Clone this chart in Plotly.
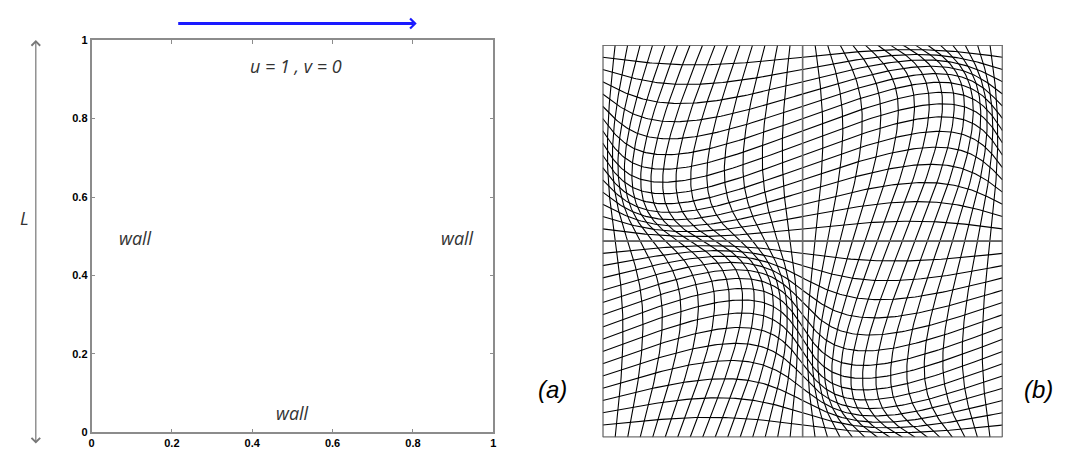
import numpy as np
import plotly.graph_objects as go

W, H = 1091, 454

# ---- panel (a) data ----
tick_vals = [0, 0.2, 0.4, 0.6, 0.8, 1]
tick_text = ["0", "0.2", "0.4", "0.6", "0.8", "1"]
lid_label = "u = 1 , v = 0"
wall_labels = ["wall", "wall", "wall"]
wall_x = [0.11, 0.91, 0.5]
wall_y = [0.495, 0.495, 0.05]

# ---- panel (b) data: distorted mesh parameters ----
n_cells = 32          # cells per side
amplitude = 0.1       # sinusoidal node displacement
n_samples = 160

def px_to_paper_x(px):
    return px / W

def px_to_paper_y(py):
    return (H - py) / H

fig = go.Figure()

# invisible trace to anchor panel (a) axes
fig.add_trace(go.Scatter(x=[0, 1], y=[0, 1], mode="markers",
                         marker=dict(opacity=0), hoverinfo="skip",
                         showlegend=False, xaxis="x", yaxis="y"))

# mesh lines
xi = np.linspace(0, 1, n_cells + 1)
s = np.linspace(0, 1, n_samples)
mx, my = [], []
for k in xi:
    d = amplitude * np.sin(2 * np.pi * k) * np.sin(2 * np.pi * s)
    mx += list(k + d) + [None]
    my += list(s + d) + [None]
for k in xi:
    d = amplitude * np.sin(2 * np.pi * s) * np.sin(2 * np.pi * k)
    mx += list(s + d) + [None]
    my += list(k + d) + [None]
fig.add_trace(go.Scatter(x=mx, y=my, mode="lines",
                         line=dict(color="black", width=1.1),
                         hoverinfo="skip", showlegend=False,
                         xaxis="x2", yaxis="y2"))

frame = "#8c8c8c"
tick_font = dict(family="Liberation Sans", size=11, color="black")
fig.update_layout(
    width=W, height=H,
    margin=dict(l=0, r=0, t=0, b=0),
    paper_bgcolor="white", plot_bgcolor="white",
    xaxis=dict(domain=[px_to_paper_x(89), px_to_paper_x(493)], range=[0, 1],
               tickvals=tick_vals, ticktext=["<b>%s</b>" % t for t in tick_text],
               ticks="inside", ticklen=4, tickcolor=frame,
               showline=True, linecolor=frame, linewidth=1.5, mirror="ticks",
               showgrid=False, zeroline=False, tickfont=tick_font),
    yaxis=dict(domain=[px_to_paper_y(438), px_to_paper_y(35)], range=[0, 1],
               tickvals=tick_vals, ticktext=["<b>%s</b>" % t for t in tick_text],
               ticks="inside", ticklen=4, tickcolor=frame,
               showline=True, linecolor=frame, linewidth=1.5, mirror="ticks",
               showgrid=False, zeroline=False, tickfont=tick_font),
    xaxis2=dict(domain=[px_to_paper_x(603), px_to_paper_x(1005)], range=[0, 1],
                visible=False, anchor="y2"),
    yaxis2=dict(domain=[px_to_paper_y(443), px_to_paper_y(40)], range=[0, 1],
                visible=False, anchor="x2"),
)

grey = "#6e6e6e"
shapes = [
    dict(type="rect", xref="x2", yref="y2", x0=0, y0=0, x1=1, y1=1,
         line=dict(color=grey, width=1.5)),
    dict(type="line", xref="x2", yref="y2", x0=0.5, y0=0, x1=0.5, y1=1,
         line=dict(color=grey, width=1.5)),
    dict(type="line", xref="x2", yref="y2", x0=0, y0=0.5, x1=1, y1=0.5,
         line=dict(color=grey, width=1.5)),
]
fig.update_layout(shapes=shapes)

txt_font = dict(family="Open Sans", size=18, color="#333333")
ann = []
ann.append(dict(x=0.51, y=0.935, xref="x", yref="y", text="<i>%s</i>" % lid_label,
                showarrow=False, font=txt_font))
for t, xx, yy in zip(wall_labels, wall_x, wall_y):
    ann.append(dict(x=xx, y=yy, xref="x", yref="y", text="<i>%s</i>" % t,
                    showarrow=False, font=txt_font))
ann.append(dict(x=px_to_paper_x(15), y=px_to_paper_y(218), xref="paper", yref="paper",
                text="<i>L</i>", showarrow=False,
                font=dict(family="Open Sans", size=18, color="#333333")))
ann.append(dict(x=px_to_paper_x(553), y=px_to_paper_y(410), xref="paper", yref="paper",
                text="<i>(a)</i>", showarrow=False,
                font=dict(family="Liberation Sans", size=24, color="black")))
ann.append(dict(x=px_to_paper_x(1058), y=px_to_paper_y(410), xref="paper", yref="paper",
                text="<i>(b)</i>", showarrow=False,
                font=dict(family="Liberation Sans", size=24, color="black")))
# blue lid arrow
ann.append(dict(x=px_to_paper_x(416), y=px_to_paper_y(18), xref="paper", yref="paper",
                ax=-240, ay=0, text="", showarrow=True, arrowhead=4, arrowsize=0.65,
                arrowwidth=3, arrowcolor="#1a1aff"))
# double arrow for L
ann.append(dict(x=px_to_paper_x(33), y=px_to_paper_y(35), xref="paper", yref="paper",
                ax=0, ay=405, text="", showarrow=True, arrowhead=4, startarrowhead=4,
                arrowside="end+start", arrowsize=1.4, startarrowsize=1.4,
                arrowwidth=1.2, arrowcolor="#777777"))
fig.update_layout(annotations=ann)

fig.write_html("out.html")
